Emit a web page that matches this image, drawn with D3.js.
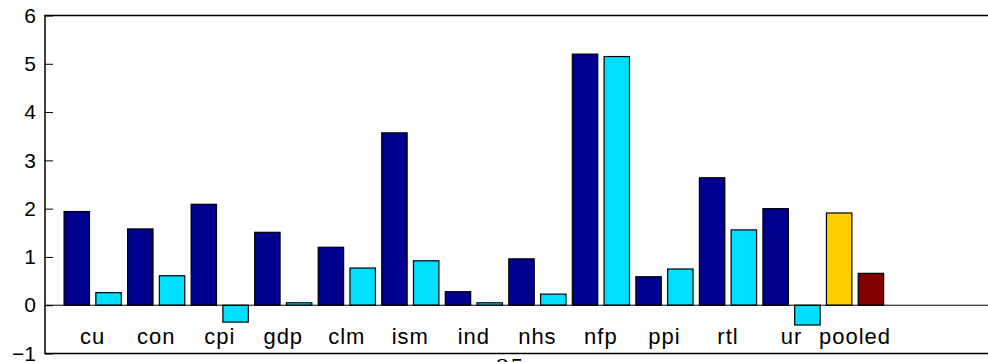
<!DOCTYPE html>
<html>
<head>
<meta charset="utf-8">
<script src="https://cdn.jsdelivr.net/npm/d3@7"></script>
<style>
  body { margin: 0; background: #fff; }
  svg text { font-family: 'Liberation Sans', Arial, sans-serif; }
</style>
</head>
<body>
<div id="graph"></div>
<script>
// data
var groups = ['cu', 'con', 'cpi', 'gdp', 'clm', 'ism', 'ind', 'nhs', 'nfp', 'ppi', 'rtl', 'ur'];
var firstSeries = [1.94, 1.58, 2.09, 1.51, 1.20, 3.57, 0.28, 0.96, 5.20, 0.59, 2.64, 2.00];
var secondSeries = [0.26, 0.61, -0.35, 0.05, 0.77, 0.92, 0.05, 0.23, 5.15, 0.75, 1.56, -0.41];
var pooledLabel = 'pooled';
var pooledValues = [1.91, 0.66];
var yTicks = [-1, 0, 1, 2, 3, 4, 5, 6];

var navy = '#00008f',
    cyan = '#00dfff',
    yellow = '#ffcf00',
    darkred = '#800000';

// flatten to one row of bars, slot positions 1..26
var bars = [];
groups.forEach(function(g, i) {
    bars.push({ pos: 2 * i + 1, value: firstSeries[i], color: navy });
    bars.push({ pos: 2 * i + 2, value: secondSeries[i], color: cyan });
});
bars.push({ pos: 25, value: pooledValues[0], color: yellow });
bars.push({ pos: 26, value: pooledValues[1], color: darkred });

var labels = groups.map(function(g, i) { return { pos: 2 * i + 1.5, text: g }; });
labels.push({ pos: 25.5, text: pooledLabel });

var width = 988,
    height = 362;

var svg = d3.select('#graph')
    .append('svg')
        .attr('width', width)
        .attr('height', height);

var x = d3.scaleLinear()
    .domain([0, 30])
    .range([45, 998]);

var y = d3.scaleLinear()
    .domain([-1, 6])
    .range([353.5, 15.5]);

var barW = (x(1) - x(0)) * 0.8;

// bars
svg.append('g')
    .selectAll('rect')
    .data(bars)
    .enter().append('rect')
    .attr('x', function(d) { return x(d.pos) - barW / 2; })
    .attr('y', function(d) { return y(Math.max(0, d.value)); })
    .attr('width', barW)
    .attr('height', function(d) { return Math.abs(y(d.value) - y(0)); })
    .style('fill', function(d) { return d.color; })
    .style('stroke', '#000')
    .style('stroke-width', 1.2);

// zero line
svg.append('line')
    .attr('x1', x(0)).attr('x2', x(30))
    .attr('y1', y(0)).attr('y2', y(0))
    .style('stroke', '#000')
    .style('stroke-width', 1);

// axes box
svg.append('rect')
    .attr('x', x(0))
    .attr('y', y(6))
    .attr('width', x(30) - x(0))
    .attr('height', y(-1) - y(6))
    .style('fill', 'none')
    .style('stroke', '#000')
    .style('stroke-width', 1.5);

// left axis with inward ticks
var yAxisL = d3.axisLeft(y)
    .tickValues(yTicks)
    .tickSizeInner(-8)
    .tickSizeOuter(0)
    .tickPadding(9)
    .tickFormat(function(d) { return d < 0 ? '\u2212' + Math.abs(d) : d; });
var gl = svg.append('g')
    .attr('transform', 'translate(' + x(0) + ',0)')
    .call(yAxisL);
gl.select('.domain').remove();
gl.selectAll('text')
    .style('font-size', '21px')
    .style('font-family', "'Liberation Sans', Arial, sans-serif")
    .attr('fill', '#000');

// right axis ticks
var yAxisR = d3.axisRight(y)
    .tickValues(yTicks)
    .tickSizeInner(-8)
    .tickSizeOuter(0)
    .tickFormat('');
var gr = svg.append('g')
    .attr('transform', 'translate(' + x(30) + ',0)')
    .call(yAxisR);
gr.select('.domain').remove();

// group labels
svg.append('g')
    .selectAll('text')
    .data(labels)
    .enter().append('text')
    .attr('x', function(d) { return x(d.pos); })
    .attr('y', 344)
    .attr('text-anchor', 'middle')
    .style('font-size', '22px')
    .style('letter-spacing', '1px')
    .text(function(d) { return d.text; });

// clipped label below the plot
svg.append('text')
    .attr('x', 496)
    .attr('y', 375)
    .style('font-family', "'DejaVu Serif', serif")
    .style('font-size', '22px')
    .text('25');
</script>
</body>
</html>
